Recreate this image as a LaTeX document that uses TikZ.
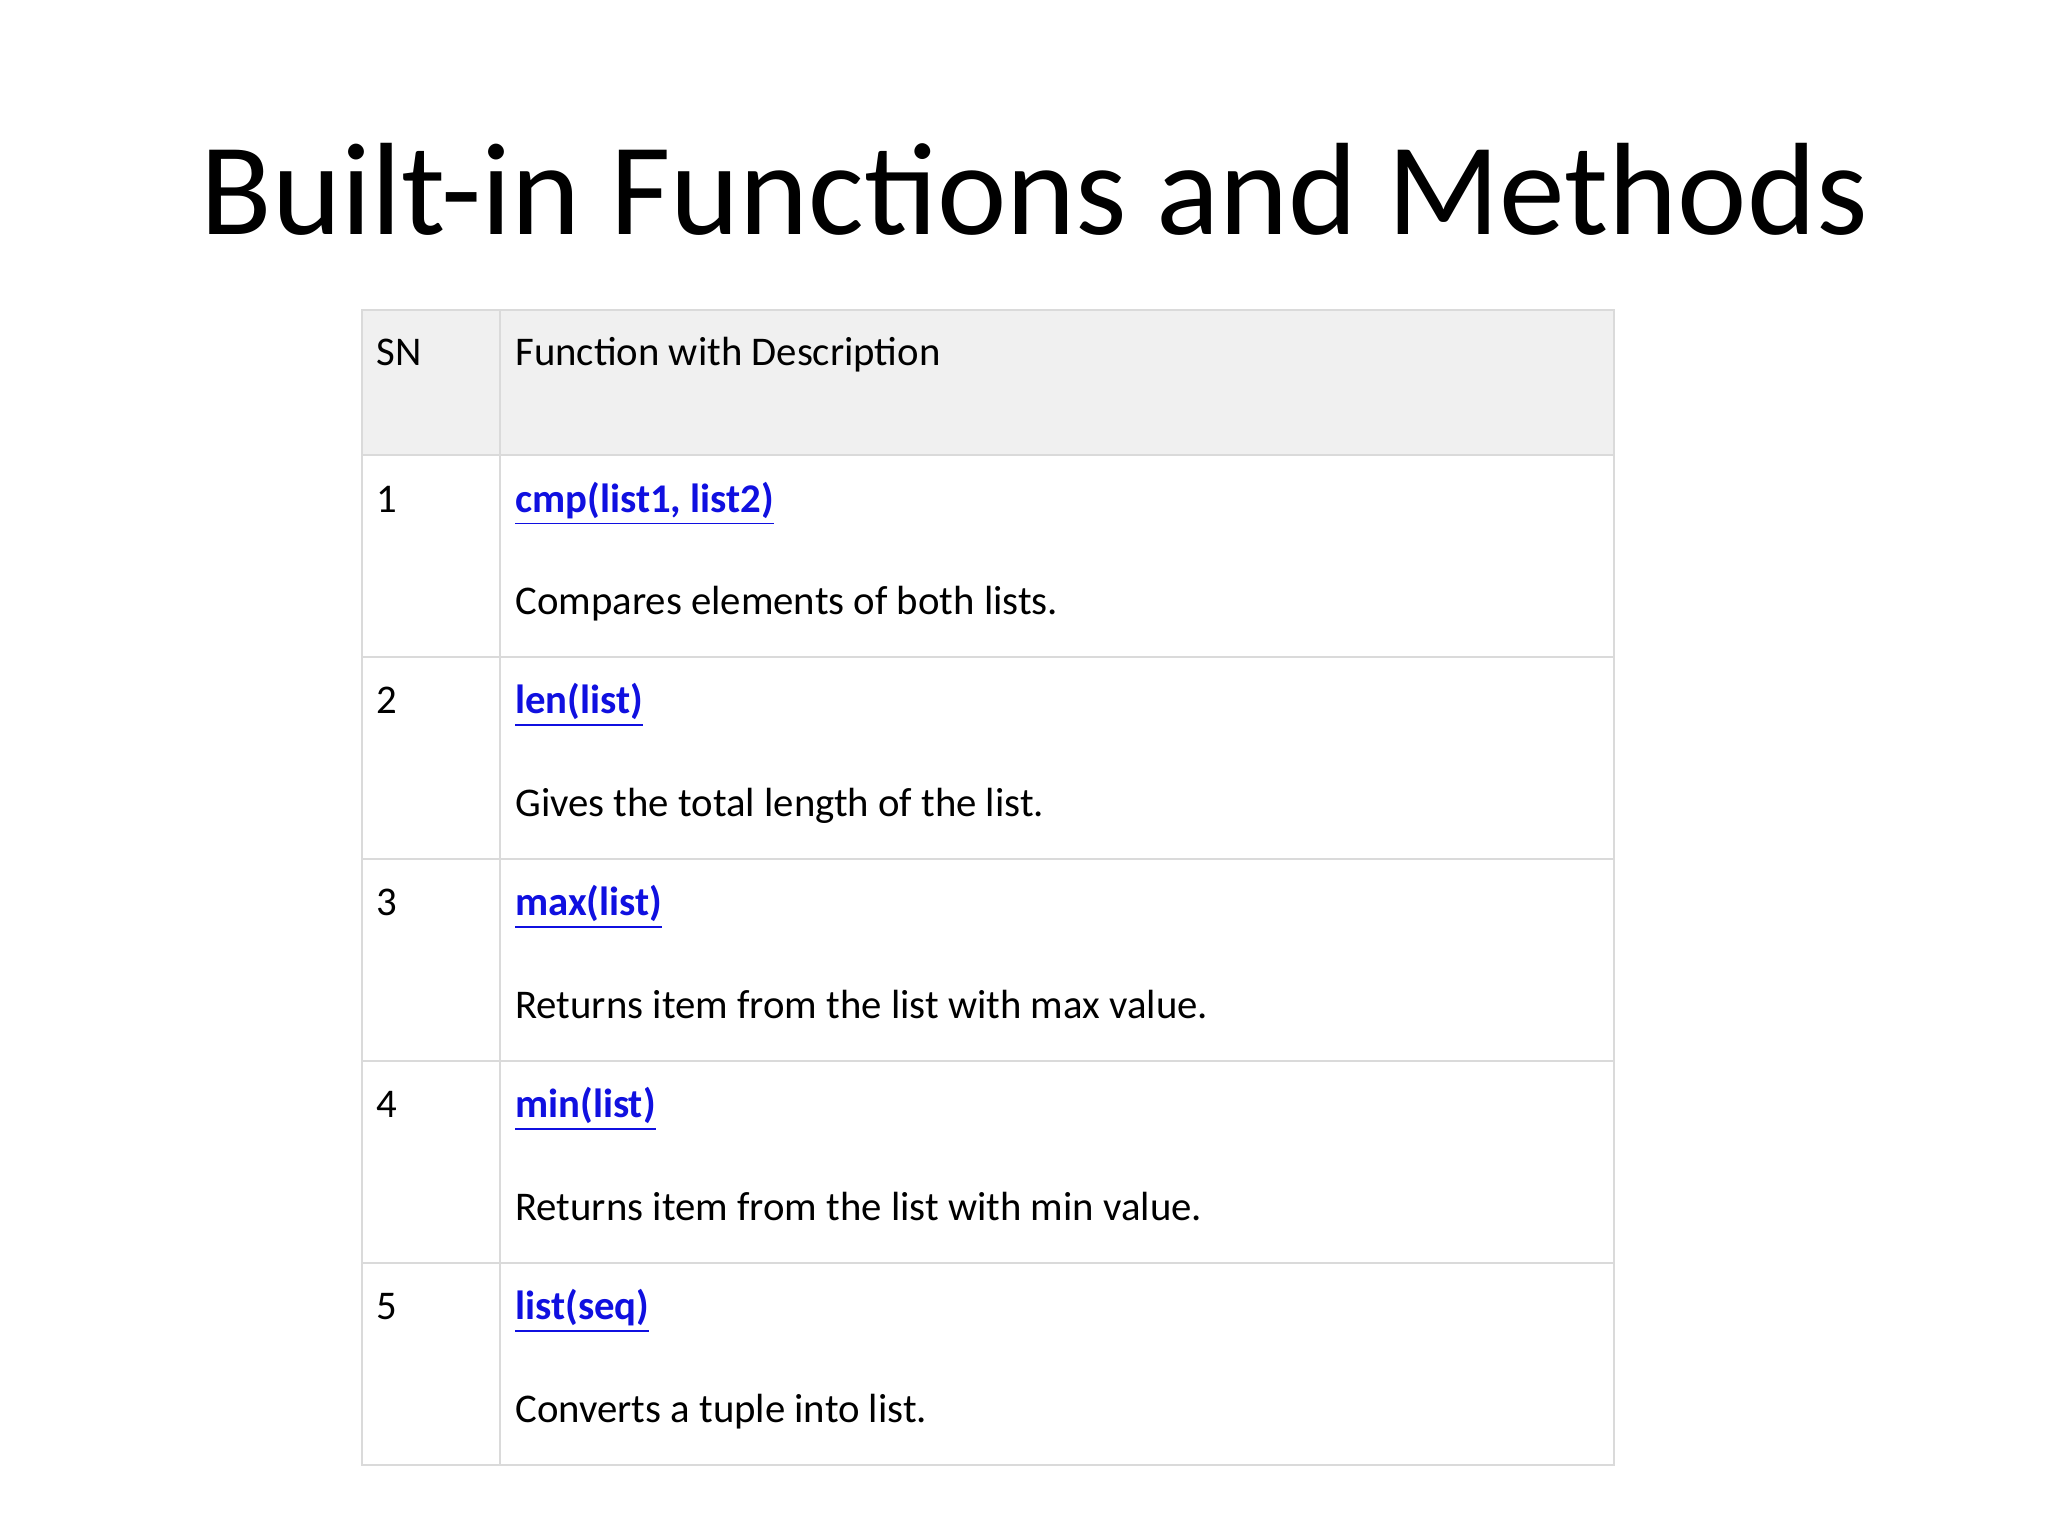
\documentclass[tikz,border=0pt]{standalone}
\usepackage{fontspec}
\setmainfont{Carlito}
\begin{document}
\begin{tikzpicture}[x=0.013196cm,y=-0.013196cm,
  txt/.style={anchor=base west,inner sep=0pt,font=\fontsize{11.6pt}{13pt}\selectfont},
  lnk/.style={txt,text=linkblue,font=\fontsize{11.6pt}{13pt}\selectfont\bfseries}]
\definecolor{linkblue}{HTML}{1010E0}
\definecolor{gridc}{HTML}{DADADA}
\useasboundingbox (0,0) rectangle (1552,1164);
\fill[white] (0,0) rectangle (1552,1164);
\fill[gray!12] (274,235) rectangle (1223,345);
\foreach \y in {345,498,651,804,957} \draw[gridc,line width=0.6pt] (274,\y) -- (1223,\y);
\draw[gridc,line width=0.6pt] (274,235) rectangle (1223,1110);
\draw[gridc,line width=0.6pt] (379,235) -- (379,1110);
\node[anchor=base,inner sep=0pt,font=\fontsize{37.4pt}{40pt}\selectfont] (title) at (784,178) {Built-in Functions and Methods};
\node[txt] (sn) at (285,277) {SN};
\node[txt] (fd) at (390,277) {Function with Description};
\foreach \i/\y/\f/\d in {1/388/{cmp(list1, list2)}/{Compares elements of both lists.},
  2/541/{len(list)}/{Gives the total length of the list.},
  3/694/{max(list)}/{Returns item from the list with max value.},
  4/847/{min(list)}/{Returns item from the list with min value.},
  5/1000/{list(seq)}/{Converts a tuple into list.}}{
  \node[txt] (n\i) at (285,\y) {\i};
  \node[lnk] (f\i) at (390,\y) {\underline{\f}};
  \node[txt] (d\i) at (390,\y+78) {\d};
}
\end{tikzpicture}
\end{document}
